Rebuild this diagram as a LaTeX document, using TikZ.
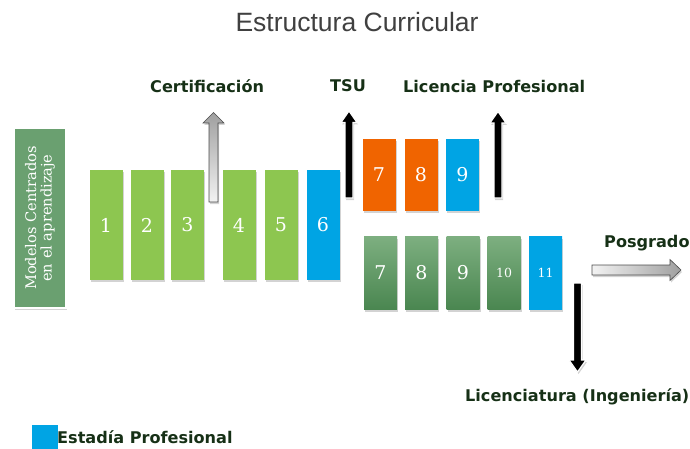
\documentclass[tikz,border=0pt]{standalone}
\usepackage{fontspec}
\setmainfont{DejaVu Serif}
\newfontfamily\lblfont{DejaVu Sans}
\newfontfamily\titlefont{Liberation Sans}
\usetikzlibrary{shadows}
\definecolor{lgreen}{RGB}{141,198,80}
\definecolor{sblue}{RGB}{0,164,228}
\definecolor{sorange}{RGB}{240,100,0}
\definecolor{dgtop}{RGB}{125,175,128}
\definecolor{dgbot}{RGB}{74,134,80}
\definecolor{mgreen}{RGB}{106,160,112}
\definecolor{lbltext}{RGB}{22,48,22}
\begin{document}
\begin{tikzpicture}[x=1pt,y=-1pt,
  shad/.style={drop shadow={opacity=0.35,shadow xshift=1pt,shadow yshift=-2pt}},
  sem/.style={minimum width=33pt,inner sep=0pt,text=white,shad,
    font=\fontsize{19}{19}\selectfont},
  small/.style={font=\fontsize{12.5}{12.5}\selectfont},
  tall/.style={sem,minimum height=110pt},
  upper/.style={sem,minimum height=72pt},
  lower/.style={sem,minimum height=73pt,top color=dgtop,bottom color=dgbot},
  lbl/.style={anchor=west,inner sep=0pt,text=lbltext,font=\lblfont\bfseries\fontsize{16.1}{17}\selectfont},
  blk/.style={fill=black,draw=white,line width=1.2pt,shad},
  gry/.style={draw=gray!60!black,line width=0.6pt,shad}]
\useasboundingbox (0,0) rectangle (690,449);
% title
\node[text=black!75,font=\titlefont\fontsize{26.5}{27}\selectfont] (title) at (357,22) {Estructura Curricular};
% left box
\node[fill=mgreen,draw=white,line width=2pt,shad,minimum width=52pt,minimum height=180pt,inner sep=0pt] (mod) at (40,218) {};
\node[rotate=90,text=white,align=center,font=\fontsize{14.6}{15.5}\selectfont] (modt) at (mod.center) {Modelos Centrados\\en el aprendizaje};
% first row
\node[tall,fill=lgreen] (s1) at (106,225) {1};
\node[tall,fill=lgreen] (s2) at (147,225) {2};
\node[tall,fill=lgreen] (s3) at (187.5,225) {3};
\node[tall,fill=lgreen] (s4) at (239,225) {4};
\node[tall,fill=lgreen] (s5) at (281,225) {5};
\node[tall,fill=sblue] (s6) at (323,225) {6};
% upper branch
\node[upper,fill=sorange] (u7) at (379,175) {7};
\node[upper,fill=sorange] (u8) at (421,175) {8};
\node[upper,fill=sblue] (u9) at (462.5,175) {9};
% lower branch
\node[lower] (l7) at (380.5,273) {7};
\node[lower] (l8) at (421.5,273) {8};
\node[lower] (l9) at (463,273) {9};
\node[lower,small] (l10) at (504,273) {10};
\node[lower,small,top color=sblue,bottom color=sblue] (l11) at (545.5,273) {11};
% arrows
\path[gry,top color=gray!75,bottom color=gray!10]
  (209,202) -- (209,123) -- (203,123) -- (213.5,112.5) -- (224,123) -- (218,123) -- (218,202) -- cycle;
\path[blk] (345,198) -- (345,122.5) -- (341,122.5) -- (349,111) -- (357,122.5) -- (353,122.5) -- (353,198) -- cycle;
\path[blk] (494,198) -- (494,123) -- (490,123) -- (498,111.5) -- (506,123) -- (502,123) -- (502,198) -- cycle;
\path[blk] (573.5,283) -- (573.5,360) -- (569,360) -- (577.5,372) -- (586,360) -- (581.5,360) -- (581.5,283) -- cycle;
\path[gry,left color=gray!10,right color=gray!75]
  (592,265) -- (670,265) -- (670,259.5) -- (681,270) -- (670,280.5) -- (670,275) -- (592,275) -- cycle;
% labels
\node[lbl] (cert) at (150,86) {Certificación};
\node[lbl] (tsu) at (330,86) {TSU};
\node[lbl] (lp) at (403,86) {Licencia Profesional};
\node[lbl] (pos) at (604,243) {Posgrado};
\node[lbl] (lic) at (465,397) {Licenciatura (Ingeniería)};
% legend
\node[fill=sblue,minimum width=26pt,minimum height=30pt,inner sep=0pt,anchor=north west] (leg) at (32,425) {};
\node[lbl] (legt) at (57,437) {Estadía Profesional};
\end{tikzpicture}
\end{document}
